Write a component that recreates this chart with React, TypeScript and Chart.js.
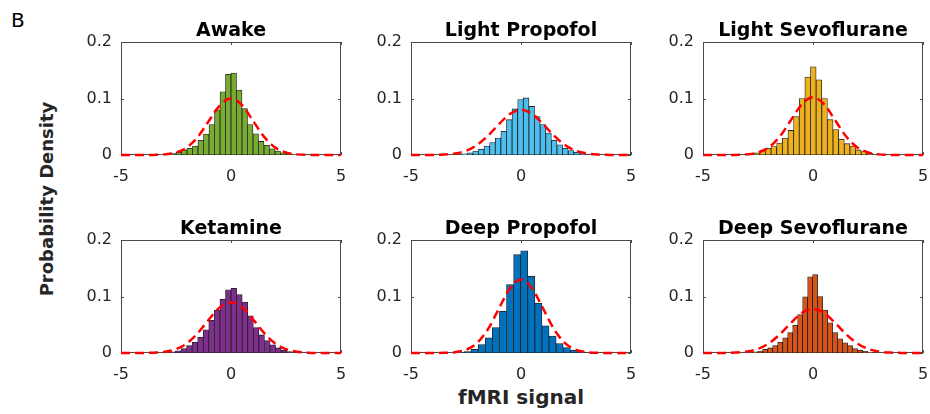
import React, { useEffect, useRef } from "react";
import { Chart, registerables } from "chart.js";

Chart.register(...registerables);

// ---------- data ----------
const panelTitles = ["Awake", "Light Propofol", "Light Sevoflurane", "Ketamine", "Deep Propofol", "Deep Sevoflurane"];
const barColors = ["#77AC30", "#4DBEEE", "#EDB120", "#7E2F8E", "#0072BD", "#D95319"];

// histogram bins: left edge of first bin and bin width per panel
const binStarts = [-3.25, -2.7, -2.93, -2.78, -2.912, -2.74];
const binWidths = [0.25, 0.255, 0.256, 0.253, 0.322, 0.227];

const awakeValues = [0.0005, 0.001, 0.0025, 0.005, 0.009, 0.012, 0.016, 0.026, 0.037, 0.054, 0.08, 0.112, 0.143, 0.145, 0.115, 0.082, 0.054, 0.0375, 0.024, 0.017, 0.011, 0.007, 0.004, 0.0025, 0.001, 0.0005];
const lightPropofolValues = [0.002, 0.004, 0.007, 0.01, 0.016, 0.022, 0.03, 0.042, 0.0625, 0.0815, 0.098, 0.101, 0.086, 0.068, 0.054, 0.039, 0.026, 0.018, 0.012, 0.008, 0.005, 0.0025];
const lightSevoValues = [0.002, 0.004, 0.008, 0.012, 0.015, 0.021, 0.03, 0.0435, 0.068, 0.1, 0.138, 0.156, 0.133, 0.1, 0.0625, 0.045, 0.028, 0.02, 0.016, 0.009, 0.006, 0.003];
const ketamineValues = [0.002, 0.004, 0.008, 0.013, 0.019, 0.028, 0.041, 0.058, 0.0755, 0.095, 0.112, 0.1145, 0.1035, 0.09, 0.066, 0.045, 0.032, 0.022, 0.0145, 0.009, 0.005, 0.0025];
const deepPropofolValues = [0.001, 0.0025, 0.0065, 0.015, 0.027, 0.045, 0.074, 0.121, 0.174, 0.181, 0.136, 0.088, 0.048, 0.03, 0.0165, 0.0095, 0.005, 0.0025, 0.001];
const deepSevoValues = [0.002, 0.0035, 0.0065, 0.009, 0.013, 0.019, 0.027, 0.036, 0.049, 0.068, 0.0995, 0.135, 0.139, 0.1, 0.076, 0.0535, 0.036, 0.025, 0.018, 0.013, 0.008, 0.005, 0.003, 0.0015];

// fitted Gaussian (red dashed) read at these x positions
const curveX = [-5, -4.5, -4, -3.5, -3, -2.5, -2, -1.5, -1, -0.5, 0, 0.5, 1, 1.5, 2, 2.5, 3, 3.5, 4, 4.5, 5];
const awakeCurve = [0, 0, 0, 0.0002, 0.0011, 0.0044, 0.0135, 0.0325, 0.0607, 0.0882, 0.1, 0.0882, 0.0607, 0.0325, 0.0135, 0.0044, 0.0011, 0.0002, 0, 0, 0];
const lightPropofolCurve = [0, 0, 0.0002, 0.0008, 0.0027, 0.0075, 0.0176, 0.0342, 0.0548, 0.0728, 0.08, 0.0728, 0.0548, 0.0342, 0.0176, 0.0075, 0.0027, 0.0008, 0.0002, 0, 0];
const lightSevoCurve = [0, 0, 0, 0.0002, 0.0011, 0.0045, 0.0138, 0.0331, 0.0619, 0.09, 0.102, 0.09, 0.0619, 0.0331, 0.0138, 0.0045, 0.0011, 0.0002, 0, 0, 0];
const ketamineCurve = [0, 0, 0.0001, 0.0006, 0.0022, 0.0068, 0.0172, 0.0355, 0.0596, 0.0812, 0.09, 0.0812, 0.0596, 0.0355, 0.0172, 0.0068, 0.0022, 0.0006, 0.0001, 0, 0];
const deepPropofolCurve = [0, 0, 0, 0.0003, 0.0014, 0.0057, 0.0176, 0.0422, 0.0789, 0.1147, 0.13, 0.1147, 0.0789, 0.0422, 0.0176, 0.0057, 0.0014, 0.0003, 0, 0, 0];
const deepSevoCurve = [0, 0, 0.0002, 0.0008, 0.0026, 0.0073, 0.0172, 0.0333, 0.0534, 0.071, 0.078, 0.071, 0.0534, 0.0333, 0.0172, 0.0073, 0.0026, 0.0008, 0.0002, 0, 0];

const panelValues = [awakeValues, lightPropofolValues, lightSevoValues, ketamineValues, deepPropofolValues, deepSevoValues];
const panelCurves = [awakeCurve, lightPropofolCurve, lightSevoCurve, ketamineCurve, deepPropofolCurve, deepSevoCurve];

const xTicks = [-5, 0, 5];
const yTicks = [0, 0.1, 0.2];

// ---------- layout ----------
const COL_LEFT = [121, 411, 703];
const ROW_TOP = [42, 240];
const PLOT_W = 220;
const PLOT_H = 113;
const Y_AXIS_W = 45;
const X_AXIS_H = 34;
const TITLE_H = 24;
const RIGHT_PAD = 18;
const CANVAS_W = Y_AXIS_W + PLOT_W + RIGHT_PAD;
const CANVAS_H = TITLE_H + PLOT_H + X_AXIS_H;

const FONT = "DejaVu Sans";

const boxPlugin = {
  id: "matlabBox",
  beforeDatasetsDraw(chart: any) {
    const { ctx, chartArea: a, scales } = chart;
    ctx.save();
    ctx.strokeStyle = "#4a4a4a";
    ctx.lineWidth = 1;
    ctx.strokeRect(a.left + 0.5, a.top + 0.5, a.right - a.left - 1, a.bottom - a.top - 1);
    const tl = 3;
    ctx.beginPath();
    xTicks.forEach((v) => {
      const px = Math.round(scales.x.getPixelForValue(v)) + 0.5;
      ctx.moveTo(px, a.bottom);
      ctx.lineTo(px, a.bottom - tl);
      ctx.moveTo(px, a.top);
      ctx.lineTo(px, a.top + tl);
    });
    yTicks.forEach((v) => {
      const py = Math.round(scales.y.getPixelForValue(v)) + 0.5;
      ctx.moveTo(a.left, py);
      ctx.lineTo(a.left + tl, py);
      ctx.moveTo(a.right, py);
      ctx.lineTo(a.right - tl, py);
    });
    ctx.stroke();
    ctx.restore();
  },
};

function Panel({ idx }: { idx: number }) {
  const ref = useRef<HTMLCanvasElement | null>(null);
  const col = idx % 3;
  const row = Math.floor(idx / 3);
  const left = COL_LEFT[col] - Y_AXIS_W;
  const top = ROW_TOP[row] - TITLE_H;

  useEffect(() => {
    if (!ref.current) return;
    const start = binStarts[idx];
    const w = binWidths[idx];
    const bars = panelValues[idx].map((v, i) => ({ x: start + (i + 0.5) * w, y: v }));
    const curve = curveX.map((x, i) => ({ x, y: panelCurves[idx][i] }));
    const chart = new Chart(ref.current, {
      type: "bar",
      data: {
        datasets: [
          {
            type: "line",
            data: curve,
            borderColor: "#ff0000",
            borderWidth: 2.5,
            borderDash: [9, 5],
            pointRadius: 0,
            fill: false,
            cubicInterpolationMode: "monotone",
            order: 0,
            clip: 4,
          } as any,
          {
            type: "bar",
            data: bars,
            backgroundColor: barColors[idx],
            borderColor: "#1e1e1e",
            borderWidth: 0.8,
            borderSkipped: false,
            barPercentage: 1,
            categoryPercentage: 1,
            order: 1,
          } as any,
        ],
      },
      options: {
        responsive: false,
        animation: false,
        layout: { autoPadding: false, padding: { left: 0, top: 0, right: RIGHT_PAD, bottom: 0 } },
        plugins: {
          legend: { display: false },
          tooltip: { enabled: false },
          title: {
            display: true,
            fullSize: false,
            text: panelTitles[idx],
            color: "#000",
            font: { family: FONT, size: 19, weight: "bold" },
            padding: { top: 1.2, bottom: 0 },
          },
        },
        scales: {
          x: {
            type: "linear",
            min: -5,
            max: 5,
            offset: false,
            grid: { display: false, drawTicks: false },
            border: { display: false },
            ticks: {
              stepSize: 5,
              padding: 12,
              autoSkip: false,
              maxRotation: 0,
              color: "#262626",
              font: { family: FONT, size: 16 },
            },
            afterFit: (s: any) => {
              s.height = X_AXIS_H;
            },
          },
          y: {
            type: "linear",
            min: 0,
            max: 0.2,
            grid: { display: false, drawTicks: false },
            border: { display: false },
            ticks: {
              stepSize: 0.1,
              padding: 9,
              color: "#262626",
              font: { family: FONT, size: 16 },
            },
            afterFit: (s: any) => {
              s.width = Y_AXIS_W;
            },
          },
        },
      } as any,
      plugins: [boxPlugin],
    });
    return () => chart.destroy();
  }, [idx]);

  return (
    <canvas
      ref={ref}
      width={CANVAS_W}
      height={CANVAS_H}
      style={{ position: "absolute", left, top, width: CANVAS_W, height: CANVAS_H }}
    />
  );
}

export default function App() {
  return (
    <div
      style={{
        position: "fixed",
        left: 0,
        top: 0,
        width: 930,
        height: 414,
        background: "#fff",
        overflow: "hidden",
        fontFamily: FONT,
      }}
    >
      <div style={{ position: "absolute", left: 11, top: 10, fontSize: 20, lineHeight: 1, color: "#000" }}>B</div>
      <div
        style={{
          position: "absolute",
          left: 47,
          top: 199,
          transform: "translate(-50%,-50%) rotate(-90deg)",
          fontSize: 18,
          fontWeight: "bold",
          lineHeight: 1,
          whiteSpace: "nowrap",
          color: "#262626",
        }}
      >
        Probability Density
      </div>
      <div
        style={{
          position: "absolute",
          left: 521,
          top: 397,
          transform: "translate(-50%,-50%)",
          fontSize: 20,
          fontWeight: "bold",
          lineHeight: 1,
          whiteSpace: "nowrap",
          color: "#262626",
        }}
      >
        fMRI signal
      </div>
      {[0, 1, 2, 3, 4, 5].map((i) => (
        <Panel key={i} idx={i} />
      ))}
    </div>
  );
}
